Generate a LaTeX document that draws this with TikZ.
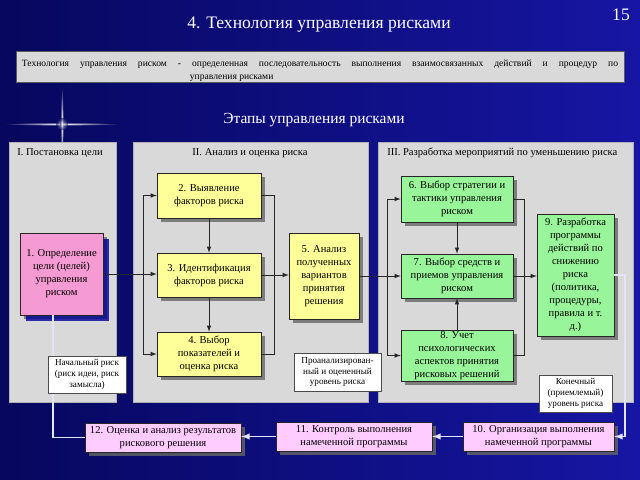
\documentclass[tikz,border=0pt]{standalone}
\usepackage{fontspec}
\setmainfont{Liberation Serif}
\usepackage{tikz}
\usetikzlibrary{calc,positioning,shadows}
\definecolor{bgdark}{HTML}{07075E}
\definecolor{bglight}{HTML}{1616A4}
\definecolor{colorpanel}{HTML}{D9D9D9}
\definecolor{colorya}{HTML}{FFFF99}
\definecolor{colorgr}{HTML}{99F599}
\definecolor{colorpk}{HTML}{F59AD2}
\definecolor{colorlp}{HTML}{FFCCFF}
\definecolor{colorwl}{HTML}{E4E4FF}
\tikzset{
  box/.style={draw=black!85, line width=0.5pt, align=center, inner sep=1pt,
    font=\fontsize{7.5}{9.2}\selectfont,
    drop shadow={shadow xshift=3pt, shadow yshift=-3pt, fill=gray!80!black, opacity=0.8}},
  boxya/.style={box, fill=colorya},
  boxgr/.style={box, fill=colorgr},
  boxlp/.style={box, fill=colorlp, font=\fontsize{7.5}{9}\selectfont},
  boxpk/.style={box, fill=colorpk,
    drop shadow={shadow xshift=4pt, shadow yshift=-4pt, fill=blue!60!black, opacity=0.8}},
  note/.style={draw=black!70, fill=white, align=center, inner sep=1pt,
    font=\fontsize{6.5}{7.8}\selectfont},
  panel/.style={fill=colorpanel, draw=gray!60},
  ptitle/.style={font=\fontsize{7.5}{9}\selectfont, inner sep=0pt},
  edgeln/.style={black!85, line width=0.5pt},
  edgear/.style={edgeln, -latex},
  edgeab/.style={edgeln, latex-latex},
  edgewl/.style={colorwl, line width=1pt},
  edgewa/.style={edgewl, -latex}
}
\begin{document}
\begin{tikzpicture}[x=0.025cm, y=-0.025cm]
\shade[left color=bgdark, right color=bglight] (0,0) rectangle (640,480);
\useasboundingbox (0,0) rectangle (640,480);
\shade[inner color=white, outer color=bgdark] (62,124) ellipse (58 and 1.6);
\shade[inner color=white, outer color=bgdark] (62,124) ellipse (1.6 and 38);
\shade[inner color=white, outer color=bgdark, opacity=0.6] (62,124) circle (6);

\node[white, font=\fontsize{12.5}{14}\selectfont] (num) at (621,15) {15};
\node[white, font=\fontsize{12.5}{15}\selectfont] (title) at (319,25) {4. Технология управления рисками};
\node[draw=gray!70!black, fill=colorpanel, minimum width=15.2cm, minimum height=0.775cm,
  inner sep=0pt, font=\fontsize{6.8}{8.6}\selectfont] (defn) at (320,66.5)
  {\parbox[c][0.7cm][c]{14.9cm}{\vspace*{6pt}\makebox[\linewidth][s]{Технология управления риском - определенная последовательность выполнения взаимосвязанных действий и процедур по}\\
   \hspace*{4.2cm}управления рисками}};
\node[white, font=\fontsize{11}{13}\selectfont] (stages) at (314,120) {Этапы управления рисками};

\draw[panel] (9,142) rectangle (116,402);
\draw[panel] (133,142) rectangle (368,402);
\draw[panel] (378,142) rectangle (633,402);
\node[ptitle, anchor=west] (pt1) at (17,153) {I. Постановка цели};
\node[ptitle] (pt2) at (250,153) {II. Анализ и оценка риска};
\node[ptitle, anchor=west] (pt3) at (387,153) {III. Разработка мероприятий по уменьшению риска};

\node[boxpk, minimum width=2.075cm, minimum height=2.05cm] (n1) at (61.5,274)
  {1. Определение\\цели (целей)\\управления\\риском};
\node[boxya, minimum width=2.6cm, minimum height=1.125cm] (n2) at (209,195.5)
  {2. Выявление\\факторов риска};
\node[boxya, minimum width=2.6cm, minimum height=1.1cm] (n3) at (209,275)
  {3. Идентификация\\факторов риска};
\node[boxya, minimum width=2.6cm, minimum height=1.1cm] (n4) at (209,354)
  {4. Выбор\\показателей и\\оценка риска};
\node[boxya, minimum width=1.75cm, minimum height=2.15cm] (n5) at (324,276)
  {5. Анализ\\полученных\\вариантов\\принятия\\решения};
\node[boxgr, minimum width=2.8cm, minimum height=1.15cm] (n6) at (457,199)
  {6. Выбор стратегии и\\тактики управления\\риском};
\node[boxgr, minimum width=2.8cm, minimum height=1.1cm] (n7) at (457,276)
  {7. Выбор средств и\\приемов управления\\риском};
\node[boxgr, minimum width=2.8cm, minimum height=1.275cm] (n8) at (457,355.5)
  {8. Учет\\психологических\\аспектов принятия\\рисковых решений};
\node[boxgr, minimum width=1.925cm, minimum height=3.05cm] (n9) at (575.5,275)
  {9. Разработка\\программы\\действий по\\снижению\\риска\\(политика,\\процедуры,\\правила и т.\\д.)};
\node[boxlp, minimum width=3.775cm, minimum height=0.725cm] (n10) at (538.5,436.5)
  {10. Организация выполнения\\намеченной программы};
\node[boxlp, minimum width=3.9cm, minimum height=0.725cm] (n11) at (354,436.5)
  {11. Контроль выполнения\\намеченной программы};
\node[boxlp, minimum width=3.9cm, minimum height=0.725cm] (n12) at (163,437.5)
  {12. Оценка и анализ результатов\\рискового решения};

\coordinate (busa) at (143,275);
\coordinate (busb) at (274,275);
\coordinate (busc) at (387,276);
\coordinate (busd) at (524,276);
\coordinate (buse) at (625,276);
\coordinate (busf) at (53,437);

\draw[edgear] (n1.east) -- (n1.east -| n3.west);
\draw[edgeab] (n2.west) -- (busa |- n2.west) -- (busa |- n4.west) -- (n4.west);
\draw[edgear] (n2) -- (n3);
\draw[edgear] (n3) -- (n4);
\draw[edgeln] (n2.east) -- (busb |- n2.east) -- (busb |- n4.east) -- (n4.east);
\draw[edgear] (n3.east) -- (n3.east -| n5.west);
\draw[edgear] (n5.east) -- (n5.east -| n7.west);
\draw[edgeab] (n6.west) -- (busc |- n6.west) -- (busc |- n8.west) -- (n8.west);
\draw[edgear] (n6) -- (n7);
\draw[edgear] (n8) -- (n7);
\draw[edgeln] (n6.east) -- (busd |- n6.east) -- (busd |- n8.east) -- (n8.east);
\draw[edgear] (n7.east) -- (n7.east -| n9.west);
\draw[edgewa] (n9.east) -- (buse |- n9.east) -- (buse |- n10.east) -- (n10.east);
\draw[edgewa] (n10) -- (n11);
\draw[edgewa] (n11.west) -- (n11.west -| n12.east);
\draw[edgewl] (n12.west) -- (busf |- n12.west) -- (busf |- n1.south);

\node[note, minimum width=1.95cm, minimum height=0.925cm] (init) at (87,374.5)
  {Начальный риск\\(риск идеи, риск\\замысла)};
\node[note, minimum width=2.175cm, minimum height=0.95cm] (anal) at (337.5,372)
  {Проанализирован-\\ный и оцененный\\уровень риска};
\node[note, minimum width=1.825cm, minimum height=0.925cm] (final) at (575.5,393.5)
  {Конечный\\(приемлемый)\\уровень риска};
\end{tikzpicture}
\end{document}
